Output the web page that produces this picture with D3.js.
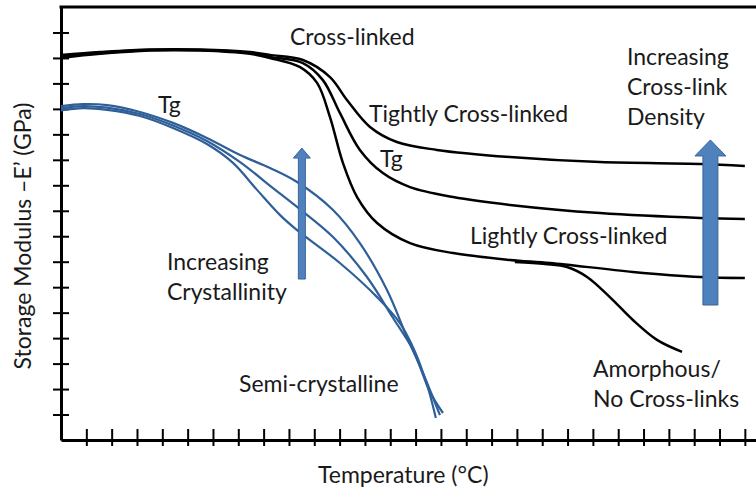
<!DOCTYPE html>
<html>
<head>
<meta charset="utf-8">
<script src="https://cdn.jsdelivr.net/npm/d3@7"></script>
<style>
body{margin:0;background:#fff;}
svg{display:block;font-family:Lato,'Open Sans',sans-serif;}
</style>
</head>
<body>
<svg id="chart" width="756" height="493"></svg>
<script>
'use strict';
// no numbers on the original axes, so temperature and modulus are in tick steps
const tempTicks = d3.range(1, 28);
const modTicks = d3.range(1, 17);

// cross-linked polymers: [temperature, E']
const tightlyCrossLinked = [[0,15.12],[1.54,15.23],[3.51,15.33],[5.49,15.33],[7.46,15.23],[8.25,15.12],[9.55,14.92],[10.62,14.25],[11.29,13.35],[12.2,12.29],[13.26,11.70],[14.84,11.39],[17.73,11.11],[21.28,10.91],[25.23,10.84],[27.0,10.76]];
const crossLinked = [[0,15.06],[1.54,15.19],[3.51,15.31],[5.49,15.31],[7.46,15.19],[8.25,15.04],[9.55,14.8],[10.34,14.13],[11.01,12.84],[11.8,11.39],[12.71,10.48],[13.78,9.93],[15.48,9.54],[17.73,9.23],[21.28,8.91],[25.23,8.72],[27.0,8.68]];
const lightlyCrossLinked = [[0,15.0],[1.54,15.16],[3.51,15.29],[5.49,15.29],[7.46,15.16],[8.25,15.0],[9.44,14.64],[10.11,14.02],[10.62,12.68],[11.13,10.88],[11.69,9.54],[12.48,8.52],[13.78,7.73],[15.48,7.34],[17.73,7.07],[19.31,6.95],[22.58,6.6],[25.23,6.4],[27.0,6.36]];
const amorphous = [[17.92,6.99],[19.11,6.91],[19.98,6.79],[20.77,6.40],[21.67,5.61],[22.58,4.71],[23.53,3.93],[24.52,3.46]];

// semi-crystalline polymers
const semiHigh = [[0,13.11],[0.87,13.19],[1.82,13.15],[3.12,12.88],[4.42,12.45],[5.76,11.86],[7.07,11.19],[8.25,10.68],[9.32,10.13],[10.74,9.03],[11.80,7.73],[12.87,5.89],[13.66,4.04],[14.29,2.63],[14.96,0.98]];
const semiMid = [[0,13.03],[0.87,13.11],[1.82,13.05],[3.12,12.80],[4.42,12.35],[5.76,11.74],[7.07,10.91],[8.37,9.89],[9.32,9.15],[10.74,7.97],[12.08,6.40],[13.11,4.79],[13.90,3.53],[14.57,1.88],[15.08,1.06]];
const semiLow = [[0,12.94],[0.87,13.03],[1.82,12.96],[3.12,12.72],[4.42,12.25],[5.76,11.62],[6.79,10.88],[7.74,9.82],[8.65,8.83],[9.32,8.24],[11.01,6.95],[12.48,5.61],[13.38,4.59],[13.98,3.46],[14.49,2.04],[14.80,0.86]];

// trend arrows: temperature, E' from, E' to
const crystallinityArrow = [9.51, 6.32, 11.46];
const densityArrow = [25.64, 5.30, 11.78];

const svg = d3.select('#chart');
const W = 756, H = 493;
const x = d3.scaleLinear().domain([0, 27.44]).range([61, W]);
const y = d3.scaleLinear().domain([0, 17]).range([440, 7]);

// axes with ticks crossing the line
const gx = svg.append('g').attr('transform', `translate(0,${y(0)})`)
  .call(d3.axisBottom(x).tickValues(tempTicks).tickSize(6).tickSizeOuter(0).tickFormat(''));
gx.selectAll('.tick line').attr('y1', -11).attr('stroke-width', 2);
gx.select('.domain').attr('stroke-width', 3);

const gy = svg.append('g').attr('transform', `translate(${x(0)},0)`)
  .call(d3.axisLeft(y).tickValues(modTicks).tickSize(8).tickSizeOuter(0).tickFormat(''));
gy.selectAll('.tick line').attr('x1', 8).attr('stroke-width', 2);
gy.select('.domain').attr('stroke-width', 3);

svg.append('line').attr('x1', x(0) - 1.5).attr('x2', W).attr('y1', y(17)).attr('y2', y(17))
  .attr('stroke', '#000').attr('stroke-width', 3);

const line = d3.line().x(d => x(d[0])).y(d => y(d[1])).curve(d3.curveCatmullRom.alpha(0.5));

svg.append('g').selectAll('path').data([semiHigh, semiMid, semiLow]).join('path')
  .attr('d', line).attr('fill', 'none').attr('stroke', '#2f5f98').attr('stroke-width', 2.2);
svg.append('g').selectAll('path').data([tightlyCrossLinked, crossLinked, lightlyCrossLinked, amorphous]).join('path')
  .attr('d', line).attr('fill', 'none').attr('stroke', '#000').attr('stroke-width', 2.5);

function arrow(a, shaft, head, headLen) {
  const cx = x(a[0]), y0 = y(a[1]), y1 = y(a[2]);
  const pts = [[cx - shaft, y0], [cx - shaft, y1 + headLen], [cx - head, y1 + headLen], [cx, y1],
    [cx + head, y1 + headLen], [cx + shaft, y1 + headLen], [cx + shaft, y0]];
  svg.append('polygon').attr('points', pts.map(p => p.join(',')).join(' '))
    .attr('fill', '#4f81bd').attr('stroke', '#3a6596').attr('stroke-width', 1);
}
arrow(crystallinityArrow, 3.5, 8.5, 10);
arrow(densityArrow, 7.5, 15.5, 16);

function label(px, py, lines) {
  const t = svg.append('text').attr('x', px).attr('y', py).attr('font-size', 23).attr('fill', '#1a1a1a');
  lines.forEach((s, i) => t.append('tspan').attr('x', px).attr('y', py + i * 30).text(s));
  return t;
}
label(290, 45, ['Cross-linked']);
label(369, 122, ['Tightly Cross-linked']);
label(380, 167, ['Tg']);
label(470, 244, ['Lightly Cross-linked']);
label(627, 65, ['Increasing', 'Cross-link', 'Density']);
label(158, 113, ['Tg']);
label(167, 270, ['Increasing', 'Crystallinity']);
label(239, 392, ['Semi-crystalline']);
label(593, 377, ['Amorphous/', 'No Cross-links']);
label(318, 483, ['Temperature (°C)']);

svg.append('text').attr('transform', 'translate(31,236) rotate(-90)').attr('text-anchor', 'middle')
  .attr('font-size', 23).attr('fill', '#1a1a1a').text('Storage Modulus –E’ (GPa)');
</script>
</body>
</html>
